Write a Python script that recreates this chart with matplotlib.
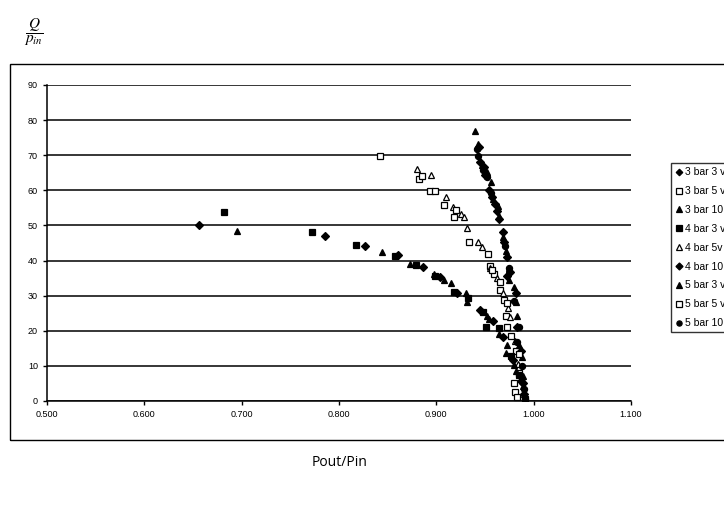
import matplotlib.pyplot as plt
from matplotlib.patches import Rectangle

plt.rcParams['font.family'] = ['Liberation Sans', 'DejaVu Sans']
plt.rcParams['mathtext.fontset'] = 'stix'

# pressure ratio vs Q/p_in, three supply pressures x three voltages
labels = ['3 bar 3 v', '3 bar 5 v', '3 bar 10 v', '4 bar 3 v', '4 bar 5v',
          '4 bar 10 v', '5 bar 3 v', '5 bar 5 v', '5 bar 10 v']

x_3b3v = [0.656, 0.786, 0.827, 0.861, 0.886, 0.904, 0.921, 0.945, 0.958, 0.968, 0.979, 0.987, 0.990]
y_3b3v = [50.0, 47.0, 44.2, 41.6, 38.3, 35.2, 30.7, 25.9, 22.7, 18.1, 11.6, 5.6, 2.0]

x_3b5v = [0.842, 0.882, 0.894, 0.908, 0.918, 0.934, 0.955, 0.959, 0.965, 0.970, 0.972, 0.977, 0.982, 0.985]
y_3b5v = [69.8, 63.2, 59.7, 55.8, 52.5, 45.4, 38.5, 36.1, 31.7, 28.8, 24.2, 18.4, 14.2, 8.0]

x_3b10v = [0.940, 0.943, 0.947, 0.952, 0.956, 0.958, 0.963, 0.964, 0.969, 0.972, 0.975, 0.975,
           0.980, 0.982, 0.983, 0.985, 0.988, 0.989, 0.990]
y_3b10v = [77.0, 73.1, 67.1, 65.3, 62.5, 57.5, 55.4, 52.8, 46.7, 42.8, 38.0, 34.6,
           32.4, 28.1, 24.2, 16.0, 12.5, 7.0, 2.0]

x_4b3v = [0.682, 0.772, 0.817, 0.858, 0.879, 0.899, 0.918, 0.933, 0.948, 0.951, 0.964, 0.977, 0.985, 0.991]
y_4b3v = [53.8, 48.2, 44.5, 41.2, 38.7, 35.7, 31.1, 29.4, 25.3, 21.2, 20.7, 12.9, 7.3, 0.5]

x_4b5v = [0.880, 0.895, 0.910, 0.917, 0.925, 0.928, 0.932, 0.943, 0.947, 0.955, 0.962, 0.968,
          0.974, 0.976, 0.981, 0.984]
y_4b5v = [66.0, 64.5, 58.2, 55.3, 53.2, 52.5, 49.4, 45.4, 43.8, 38.0, 34.9, 30.8,
          26.5, 23.8, 17.0, 10.5]

x_4b10v = [0.944, 0.945, 0.949, 0.950, 0.954, 0.957, 0.960, 0.962, 0.964, 0.968, 0.970, 0.973,
           0.976, 0.973, 0.982, 0.983, 0.987, 0.989]
y_4b10v = [72.3, 68.1, 66.6, 64.3, 60.1, 58.2, 56.2, 54.1, 51.9, 48.2, 45.4, 40.9,
           36.8, 35.5, 30.7, 21.2, 14.2, 5.0]

x_5b3v = [0.695, 0.844, 0.873, 0.898, 0.908, 0.915, 0.930, 0.931, 0.952, 0.954, 0.964, 0.973,
          0.972, 0.980, 0.982, 0.989]
y_5b3v = [48.4, 42.4, 38.9, 36.3, 34.6, 33.7, 30.7, 28.3, 24.2, 23.3, 19.0, 16.0,
          13.8, 10.3, 8.6, 4.3]

x_5b5v = [0.885, 0.899, 0.920, 0.953, 0.957, 0.965, 0.973, 0.973, 0.985, 0.980, 0.981, 0.983]
y_5b5v = [64.2, 59.7, 54.5, 42.0, 37.2, 34.0, 27.9, 21.2, 13.4, 5.0, 2.5, 1.0]

x_5b10v = [0.942, 0.943, 0.948, 0.952, 0.956, 0.971, 0.975, 0.980, 0.985, 0.983, 0.988, 0.990, 0.991]
y_5b10v = [71.8, 69.7, 65.8, 63.8, 59.3, 44.1, 38.0, 28.5, 21.0, 16.7, 10.0, 3.5, 0.5]

xs = [x_3b3v, x_3b5v, x_3b10v, x_4b3v, x_4b5v, x_4b10v, x_5b3v, x_5b5v, x_5b10v]
ys = [y_3b3v, y_3b5v, y_3b10v, y_4b3v, y_4b5v, y_4b10v, y_5b3v, y_5b5v, y_5b10v]

markers = ['D', 's', '^', 's', '^', 'D', '^', 's', 'o']
filled = [True, False, True, True, False, True, True, False, True]
sizes = [3.9, 4.6, 4.7, 4.3, 4.8, 4.2, 4.7, 4.6, 4.4]

fig = plt.figure(figsize=(7.24, 5.08), dpi=100)
ax = fig.add_axes([47 / 724, 1 - 401 / 508, 584 / 724, 316 / 508])

for x, y, lab, m, f, s in zip(xs, ys, labels, markers, filled, sizes):
    ax.plot(x, y, linestyle='none', marker=m, markersize=s, label=lab,
            markerfacecolor='black' if f else 'white',
            markeredgecolor='black', markeredgewidth=0.9)

ax.set_xlim(0.5, 1.1)
ax.set_ylim(0, 90)
ax.set_xticks([0.5 + 0.1 * i for i in range(7)])
ax.set_xticklabels(['%.3f' % (0.5 + 0.1 * i) for i in range(7)])
ax.set_yticks(range(0, 91, 10))
ax.grid(axis='y', color='black', linewidth=1.1)
ax.set_axisbelow(True)
for side in ['top', 'right']:
    ax.spines[side].set_visible(False)
ax.spines['left'].set_linewidth(1.1)
ax.spines['bottom'].set_linewidth(1.1)
ax.tick_params(labelsize=6.5, length=3, width=1, direction='out', colors='black')

# outer chart border, runs off the right edge
fig.patches.append(Rectangle((10 / 724, 1 - 440 / 508), 760 / 724, 376 / 508,
                             transform=fig.transFigure, fill=False,
                             edgecolor='black', linewidth=1.0))

leg = fig.legend(loc='upper left', bbox_to_anchor=(666 / 724, 1 - 158 / 508),
                 fontsize=7.5, frameon=True, fancybox=False, edgecolor='black',
                 handlelength=0.6, handletextpad=0.3, labelspacing=0.85,
                 borderpad=0.4, markerscale=0.85)
leg.get_frame().set_linewidth(1.0)

fig.text(34 / 724, 1 - 32 / 508, r'$\dfrac{Q}{p_{in}}$', fontsize=11,
         ha='center', va='center')
fig.text(340 / 724, 1 - 462 / 508, 'Pout/Pin', fontsize=10, ha='center', va='center',
         family=['Open Sans', 'DejaVu Sans'])

fig.savefig('out.png', dpi=100)
